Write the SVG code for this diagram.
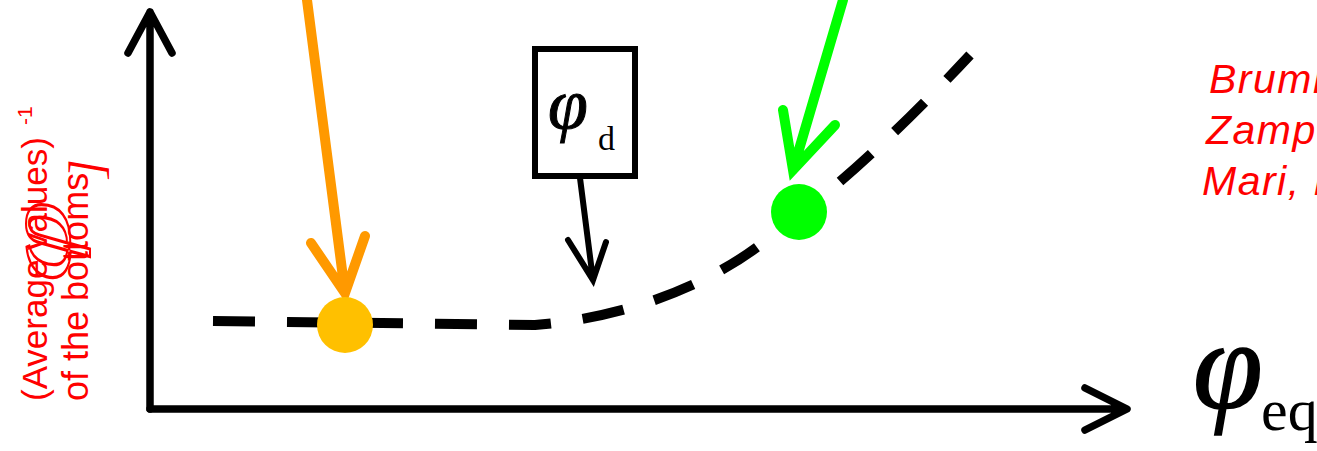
<svg xmlns="http://www.w3.org/2000/svg" width="1317" height="451" viewBox="0 0 1317 451">
<style>
.ax{fill:none;stroke:#000;stroke-width:7.5;stroke-linecap:round;stroke-linejoin:round}
.red{fill:#FF0000;font-family:"Liberation Sans",Arial,sans-serif}
.ref{fill:#FF0000;font-family:"Liberation Sans",Arial,sans-serif;font-style:italic;font-size:41px;letter-spacing:1.5px}
.math{font-family:"Liberation Serif","Times New Roman",serif;fill:#000}
</style>
<rect width="1317" height="451" fill="#fff"/>
<g id="connectors">
<path class="ax" d="M150,409 L150,12 M128,53 L150,12 L172,53"/>
<path class="ax" d="M150,409 L1126,409 M1085,388 L1127,409 L1085,430"/>
<path d="M213,321 L535,325 C620,318 700,290 760,245 C830,195 900,130 970,55" fill="none" stroke="#000" stroke-width="10" stroke-dasharray="42 32"/>
<path d="M307,0 L345,293 M311,243 L345,293 L365,236" fill="none" stroke="#FF9900" stroke-width="10" stroke-linecap="round" stroke-linejoin="miter"/>
<path d="M843,0 L793,170 M783,110 L793,170 L835,125" fill="none" stroke="#00FF00" stroke-width="10" stroke-linecap="round" stroke-linejoin="miter"/>
<path d="M580,178 L593,280 M568,240 L593,280 L606,242" fill="none" stroke="#000" stroke-width="6" stroke-linecap="round"/>
</g>
<g id="dot-orange"><circle cx="345" cy="325" r="28" fill="#FFC000"/></g>
<g id="dot-green"><circle cx="799" cy="212" r="28" fill="#00FF00"/></g>
<g id="box-phi-d">
<rect x="535" y="49" width="100" height="127" fill="#fff" stroke="#000" stroke-width="6"/>
<text class="math" x="548" y="128" font-size="72" font-style="italic" stroke="#000" stroke-width="1">φ</text>
<text class="math" x="598" y="150" font-size="34">d</text>
</g>
<g id="x-label">
<text class="math" x="1193" y="408" font-size="126" font-style="italic" stroke="#000" stroke-width="1.5">φ</text>
<text class="math" x="1261" y="430" font-size="60">eq</text>
</g>
<g id="y-label">
<text class="red" font-size="35" transform="translate(47,401) rotate(-90)">(Average values)<tspan font-size="21" dx="12" dy="-15">-1</tspan></text>
<text class="red" font-size="36" transform="translate(88,401) rotate(-90)">of  the bottoms</text>
<text fill="none" stroke="#FF0000" stroke-width="2" font-family="Liberation Serif,serif" font-style="italic" font-size="92" transform="translate(70,282) rotate(-90) scale(1.6,1)">φ</text>
<text fill="#FF0000" font-family="Liberation Serif,serif" font-style="italic" font-size="48" transform="translate(102,178) rotate(-90)">]</text>
</g>
<g id="refs">
<text class="ref" x="1209" y="93">Brummer</text>
<text class="ref" x="1206" y="144">Zamponi</text>
<text class="ref" x="1202" y="195">Mari, Krzakala</text>
</g>
</svg>
